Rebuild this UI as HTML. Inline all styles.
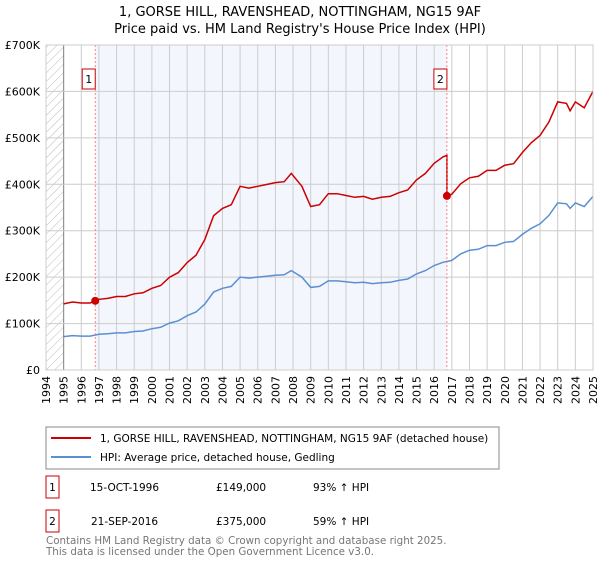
<!DOCTYPE html>
<html><head><meta charset="utf-8"><style>
body{margin:0;background:#fff;font-family:"Liberation Sans","DejaVu Sans",sans-serif}
svg text{font-family:"DejaVu Sans","Liberation Sans",sans-serif}
</style></head><body>
<svg id="chart" width="600" height="560" xmlns="http://www.w3.org/2000/svg">
<defs><pattern id="hatch" width="6" height="6" patternUnits="userSpaceOnUse" patternTransform="rotate(45)"><line x1="0" y1="0" x2="0" y2="6" stroke="#bbb" stroke-width="1"/></pattern></defs>
<text x="300" y="16" text-anchor="middle" font-size="13">1, GORSE HILL, RAVENSHEAD, NOTTINGHAM, NG15 9AF</text>
<text x="300" y="33" text-anchor="middle" font-size="13">Price paid vs. HM Land Registry's House Price Index (HPI)</text>
<g id="grid"></g><g id="series"></g><g id="axes"></g>
<g>
<rect x="46" y="427" width="453" height="42" fill="#fff" stroke="#888"/>
<line x1="51" y1="438" x2="91" y2="438" stroke="#cc0000" stroke-width="2"/>
<text x="100" y="442" font-size="10.5">1, GORSE HILL, RAVENSHEAD, NOTTINGHAM, NG15 9AF (detached house)</text>
<line x1="51" y1="457" x2="91" y2="457" stroke="#5b8fd4" stroke-width="2"/>
<text x="100" y="461" font-size="10.5">HPI: Average price, detached house, Gedling</text>
</g>
<g font-size="10.5">
<rect x="46" y="476" width="13" height="22" fill="#fff" stroke="#cc0000"/><text x="52.5" y="491" text-anchor="middle">1</text>
<text x="90" y="491">15-OCT-1996</text><text x="216" y="491">£149,000</text><text x="313" y="491">93% ↑ HPI</text>
<rect x="46" y="510" width="13" height="22" fill="#fff" stroke="#cc0000"/><text x="52.5" y="525" text-anchor="middle">2</text>
<text x="91" y="525">21-SEP-2016</text><text x="216" y="525">£375,000</text><text x="313" y="525">59% ↑ HPI</text>
</g>
<text x="46" y="544" font-size="10.3" fill="#777">Contains HM Land Registry data © Crown copyright and database right 2025.</text>
<text x="46" y="555" font-size="10.3" fill="#777">This data is licensed under the Open Government Licence v3.0.</text>
</svg>
<script>
const hpiYears=[1995,1995.5,1996,1996.5,1997,1997.5,1998,1998.5,1999,1999.5,2000,2000.5,2001,2001.5,2002,2002.5,2003,2003.5,2004,2004.5,2005,2005.5,2006,2006.5,2007,2007.5,2007.9,2008.5,2009,2009.5,2010,2010.5,2011,2011.5,2012,2012.5,2013,2013.5,2014,2014.5,2015,2015.5,2016,2016.5,2017,2017.5,2018,2018.5,2019,2019.5,2020,2020.5,2021,2021.5,2022,2022.5,2023,2023.5,2023.7,2024,2024.5,2025];
const hpiValues=[72,74,73,73,77,78,80,80,83,84,89,92,101,106,117,125,142,168,176,180,200,198,200,202,204,205,214,200,178,180,192,192,190,188,189,186,188,189,193,196,207,214,225,232,236,250,258,260,268,268,275,277,292,305,315,333,360,358,348,360,352,374];
const saleYears=[1996.79,2016.72];
const salePrices=[149,375];
const saleLabels=["1","2"];
const yTicks=[0,100,200,300,400,500,600,700];
const yTickLabels=["£0","£100K","£200K","£300K","£400K","£500K","£600K","£700K"];
const xTicks=[];for(let y=1994;y<=2025;y++)xTicks.push(y);

const X0=46,X1=593,Y0=370,Y1=45;
const xs=v=>X0+(v-1994)/(2025-1994)*(X1-X0);
const ys=v=>Y0-v/700*(Y0-Y1);
const NS="http://www.w3.org/2000/svg";
function mk(p,t,a){const e=document.createElementNS(NS,t);for(const k in a)e.setAttribute(k,a[k]);p.appendChild(e);return e;}
const grid=document.getElementById('grid'),ser=document.getElementById('series'),ax=document.getElementById('axes');
function hpiAt(t){for(let i=0;i<hpiYears.length-1;i++){if(t<=hpiYears[i+1]){const f=(t-hpiYears[i])/(hpiYears[i+1]-hpiYears[i]);return hpiValues[i]+f*(hpiValues[i+1]-hpiValues[i]);}}return hpiValues[hpiValues.length-1];}
let r=mk(grid,'rect',{x:X0,y:Y1,width:X1-X0,height:Y0-Y1,fill:'#fff'});

r=mk(grid,'rect',{x:xs(saleYears[0]),y:Y1,width:xs(saleYears[1])-xs(saleYears[0]),height:Y0-Y1,fill:'#eef3fc',opacity:0.7});

r=mk(grid,'rect',{x:X0,y:Y1,width:xs(1995)-X0,height:Y0-Y1,fill:'url(#hatch)'});

xTicks.forEach(t=>{mk(grid,'line',{x1:xs(t),x2:xs(t),y1:Y1,y2:Y0,stroke:'#ccc'});
 const tx=mk(ax,'text',{x:0,y:0,'font-size':11,'text-anchor':'end',transform:`translate(${xs(t)+4},${Y0+6}) rotate(-90)`});tx.textContent=t;
 });
mk(grid,'line',{x1:xs(1995),x2:xs(1995),y1:Y1,y2:Y0,stroke:'#888'});
yTicks.forEach((t,i)=>{mk(grid,'line',{x1:X0,x2:X1,y1:ys(t),y2:ys(t),stroke:'#ccc'});
 const tx=mk(ax,'text',{x:X0-6,y:ys(t)+4,'font-size':11,'text-anchor':'end'});tx.textContent=yTickLabels[i];
 });
mk(ax,'rect',{x:X0,y:Y1,width:X1-X0,height:Y0-Y1,fill:'none',stroke:'#ccc'});
let d=hpiYears.map((t,i)=>(i?'L':'M')+xs(t).toFixed(1)+','+ys(hpiValues[i]).toFixed(1)).join('');
let p=mk(ser,'path',{d,fill:'none',stroke:'#5b8fd4','stroke-width':1.5});

let pts=[];
hpiYears.forEach((t,i)=>{let k=t<saleYears[1]?0:1;pts.push([t,salePrices[k]*hpiValues[i]/hpiAt(saleYears[k])]);
 if(i<hpiYears.length-1&&t<saleYears[1]&&hpiYears[i+1]>=saleYears[1]){pts.push([saleYears[1],salePrices[0]*hpiAt(saleYears[1])/hpiAt(saleYears[0])]);pts.push([saleYears[1],salePrices[1]]);}});
d=pts.map((q,i)=>(i?'L':'M')+xs(q[0]).toFixed(1)+','+ys(q[1]).toFixed(1)).join('');
p=mk(ser,'path',{d,fill:'none',stroke:'#cc0000','stroke-width':1.5});

saleYears.forEach((t,i)=>{
 const l=mk(ser,'line',{x1:xs(t),x2:xs(t),y1:Y1,y2:Y0,stroke:'#ff6666','stroke-dasharray':'2,2','stroke-width':0.8});
 
 const c=mk(ser,'circle',{cx:xs(t),cy:ys(salePrices[i]),r:4,fill:'#cc0000'});
 
 const b=mk(ser,'rect',{x:xs(t)-13,y:69,width:13,height:20,fill:'#fff',stroke:'#cc0000'});
 
 const tx=mk(ser,'text',{x:xs(t)-6.5,y:83,'font-size':11,'text-anchor':'middle'});tx.textContent=saleLabels[i];
 });
</script>
</body></html>
